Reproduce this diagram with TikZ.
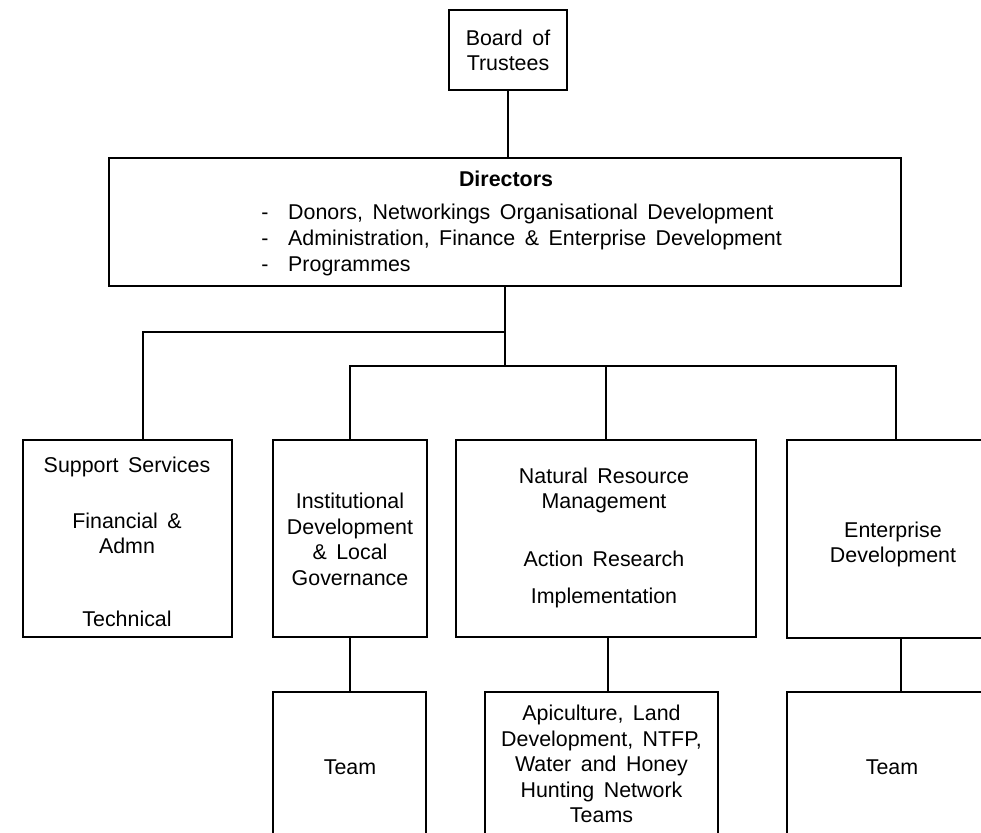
\documentclass[tikz,border=0pt]{standalone}
\usepackage{fontspec}
\setmainfont{Liberation Sans}[WordSpace=1.6]
\begin{document}
\begin{tikzpicture}[x=1pt,y=-1pt,
  box/.style={draw, line width=2.8pt, inner sep=0pt},
  conn/.style={line width=2.8pt},
  lbl/.style={inner sep=0pt, align=center, font=\fontsize{21.4}{25.5}\selectfont},
  blbl/.style={inner sep=0pt, align=center, font=\fontsize{21.4}{25.5}\selectfont\bfseries}]
\useasboundingbox (0,0) rectangle (981,832);
\clip (0,0) rectangle (981,832);
% boxes
\node[box, minimum width=118pt, minimum height=80pt] (board) at (508,50) {};
\node[box, minimum width=792pt, minimum height=128pt] (dir) at (505,222) {};
\node[box, minimum width=209pt, minimum height=197pt] (sup) at (127.5,538.5) {};
\node[box, minimum width=154pt, minimum height=197pt] (inst) at (350,538.5) {};
\node[box, minimum width=300pt, minimum height=197pt] (nrm) at (606,538.5) {};
\node[box, minimum width=218pt, minimum height=198pt] (ent) at (896,539) {};
\node[box, minimum width=153pt, minimum height=178pt] (instteam) at (349.5,781) {};
\node[box, minimum width=233pt, minimum height=177pt] (api) at (601.5,780.5) {};
\node[box, minimum width=218pt, minimum height=178pt] (entteam) at (896,781) {};
% junctions
\coordinate (j1) at (505,332);
\coordinate (j2) at (505,366);
% connectors
\draw[conn] (board.south) -- (board.south |- dir.north);
\draw[conn] (dir.south) -- (j2);
\draw[conn] (j1) -| ([xshift=15.5pt]sup.north);
\draw[conn] (inst.north) |- (ent.north |- j2) -- (ent.north);
\draw[conn] (nrm.north) -- (nrm.north |- j2);
\draw[conn] (inst.south) -- (inst.south |- instteam.north);
\draw[conn] ([xshift=2pt]nrm.south) -- ([xshift=2pt]nrm.south |- api.north);
\draw[conn] ([xshift=5pt]ent.south) -- ([xshift=5pt]ent.south |- entteam.north);
% texts
\node[lbl] (tboard) at (508,50.5) {Board of\\Trustees};
\node[blbl, anchor=base] (tdir) at (506,186.5) {Directors};
\node[lbl, anchor=base] (dash1) at (265,219.5) {-};
\node[lbl, anchor=base west] (dl1) at (288,219.5) {Donors, Networkings Organisational Development};
\node[lbl, anchor=base] (dash2) at (265,245.5) {-};
\node[lbl, anchor=base west] (dl2) at (288,245.5) {Administration, Finance \& Enterprise Development};
\node[lbl, anchor=base] (dash3) at (265,271.5) {-};
\node[lbl, anchor=base west] (dl3) at (288,271.5) {Programmes};
\node[lbl] (tsup1) at (127,467) {Support Services};
\node[lbl] (tsup2) at (127,533.5) {Financial \&\\Admn};
\node[lbl] (tsup3) at (127,619) {Technical};
\node[lbl] (tinst) at (350,539.5) {Institutional\\Development\\\& Local\\Governance};
\node[lbl] (tnrm1) at (604,490.5) {Natural Resource\\Management};
\node[lbl] (tnrm2) at (604,559) {Action Research};
\node[lbl] (tnrm3) at (604,598) {Implementation};
\node[lbl] (tent) at (893,544.5) {Enterprise\\Development};
\node[lbl] (tinstteam) at (350,767) {Team};
\node[lbl] (tapi) at (601.5,764) {Apiculture, Land\\Development, NTFP,\\Water and Honey\\Hunting Network\\Teams};
\node[lbl] (tentteam) at (892,767) {Team};
\end{tikzpicture}
\end{document}
